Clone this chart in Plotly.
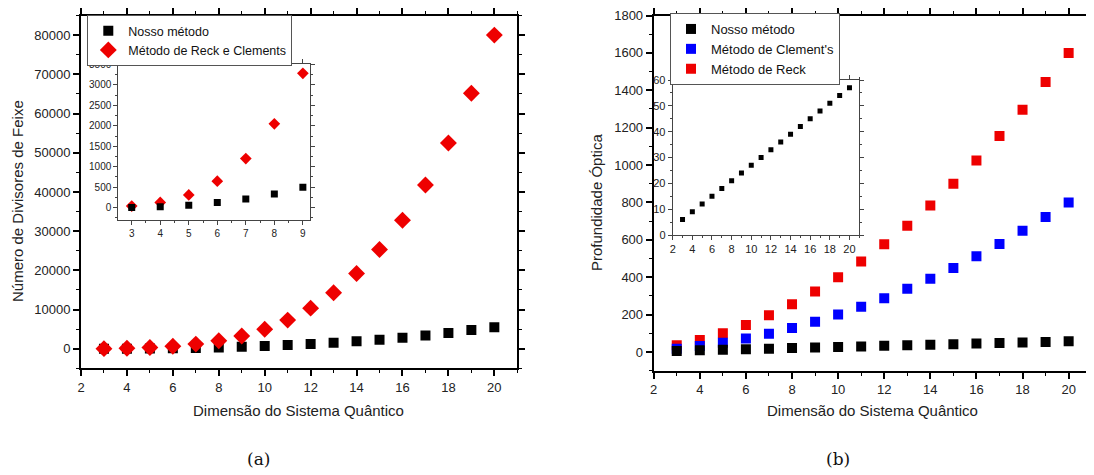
import plotly.graph_objects as go

# ---- data ----
dims_a = list(range(3, 21))
nosso_a = [6, 24, 60, 125, 215, 335, 500, 740, 950, 1200, 1540, 1900, 2330, 2820, 3420, 4040, 4800, 5500]
reck_clements_a = [40, 128, 312, 648, 1200, 2048, 3280, 5000, 7320, 10370, 14280, 19210, 25310, 32770, 41760, 52490, 65160, 80000]

dims_inset_a = list(range(3, 10))
nosso_inset_a = nosso_a[:7]
reck_inset_a = reck_clements_a[:7]

dims_b = list(range(3, 21))
nosso_b = [6, 9, 12, 15, 18, 21, 24, 27, 30, 33, 36, 39, 42, 45, 48, 51, 54, 57]
clements_b = [18, 32, 50, 72, 98, 128, 162, 200, 242, 288, 338, 392, 450, 512, 578, 648, 722, 800]
reck_b = [36, 64, 100, 144, 196, 256, 324, 400, 484, 576, 676, 784, 900, 1024, 1156, 1296, 1444, 1600]

W, H = 1094, 475
OFF = 8  # page body margin offset of the figure div

def fx(x):
    return (x - OFF) / W
def fy(y):
    return 1 - (y - OFF) / H
def px(x0, x1):
    return [fx(x0), fx(x1)]
def py(top, bottom):
    return [fy(bottom), fy(top)]

FONT = "Liberation Sans, Arial, sans-serif"
RED = "#ee0000"
BLUE = "#0000ff"

fig = go.Figure()

# left main
fig.add_trace(go.Scatter(x=dims_a, y=nosso_a, mode="markers", name="Nosso método",
                         marker=dict(symbol="square", size=10, color="black"),
                         xaxis="x", yaxis="y", legend="legend"))
fig.add_trace(go.Scatter(x=dims_a, y=reck_clements_a, mode="markers", name="Método de Reck e Clements",
                         marker=dict(symbol="diamond", size=13, color=RED),
                         xaxis="x", yaxis="y", legend="legend"))
# left inset
fig.add_trace(go.Scatter(x=dims_inset_a, y=reck_inset_a, mode="markers", showlegend=False,
                         marker=dict(symbol="diamond", size=9, color=RED),
                         xaxis="x2", yaxis="y2"))
fig.add_trace(go.Scatter(x=dims_inset_a, y=nosso_inset_a, mode="markers", showlegend=False,
                         marker=dict(symbol="square", size=7, color="black"),
                         xaxis="x2", yaxis="y2"))
# right main
fig.add_trace(go.Scatter(x=dims_b, y=reck_b, mode="markers", name="Método de Reck",
                         marker=dict(symbol="square", size=10, color=RED),
                         xaxis="x3", yaxis="y3", legend="legend2"))
fig.add_trace(go.Scatter(x=dims_b, y=clements_b, mode="markers", name="Método de Clement's",
                         marker=dict(symbol="square", size=10, color=BLUE),
                         xaxis="x3", yaxis="y3", legend="legend2"))
fig.add_trace(go.Scatter(x=dims_b, y=nosso_b, mode="markers", name="Nosso método",
                         marker=dict(symbol="square", size=10, color="black"),
                         xaxis="x3", yaxis="y3", legend="legend2"))
# right inset
fig.add_trace(go.Scatter(x=dims_b, y=nosso_b, mode="markers", showlegend=False,
                         marker=dict(symbol="square", size=5, color="black"),
                         xaxis="x4", yaxis="y4"))

def ax(domain, rng, dtick, minor_dtick, anchor, size=13, lw=2, tl=6, mtl=3, color="black"):
    return dict(domain=domain, range=rng, dtick=dtick, tick0=0, anchor=anchor,
                automargin=False, ticklabeloverflow="allow",
                showgrid=False, zeroline=False, showline=True, linecolor=color, linewidth=lw,
                mirror="ticks", ticks="outside", ticklen=tl, tickwidth=lw if lw < 2 else 1.5,
                tickcolor=color, tickformat="d",
                minor=dict(dtick=minor_dtick, ticks="outside", ticklen=mtl, tickcolor=color,
                           tickwidth=1, showgrid=False),
                tickfont=dict(family=FONT, size=size, color="#222"))

TOP = 15.5
layout = dict(
    width=W, height=H, margin=dict(l=0, r=0, t=0, b=0, pad=0, autoexpand=False),
    paper_bgcolor="white", plot_bgcolor="white",
    xaxis=ax(px(81, 517.3), [2, 21], 2, 1, "y"),
    yaxis=ax(py(TOP, 368.4), [-5000, 85000], 10000, 5000, "x"),
    xaxis2=ax(px(118.3, 310), [2.53, 9.25], 1, 0.5, "y2", size=10, lw=1, tl=4, mtl=2, color="#444"),
    yaxis2=ax(py(64.3, 220), [-300, 3500], 500, 250, "x2", size=10, lw=1, tl=4, mtl=2, color="#444"),
    xaxis3=ax(px(653.7, 1091.7), [2, 21], 2, 1, "y3"),
    yaxis3=ax(py(TOP, 370.7), [-100, 1800], 200, 100, "x3"),
    xaxis4=ax(px(672.7, 859.3), [2, 21], 2, 1, "y4", size=11, lw=1, tl=4, mtl=2, color="#444"),
    yaxis4=ax(py(80, 235), [0, 60], 10, 5, "x4", size=11, lw=1, tl=4, mtl=2, color="#444"),
    legend=dict(x=fx(87.3), y=fy(15), xanchor="left", yanchor="top",
                bgcolor="white", bordercolor="#555", borderwidth=1,
                font=dict(family=FONT, size=12.5, color="#111"),
                itemsizing="trace", tracegroupgap=0),
    legend2=dict(x=fx(670), y=fy(13), xanchor="left", yanchor="top",
                 bgcolor="white", bordercolor="#555", borderwidth=1,
                 font=dict(family=FONT, size=13, color="#111"),
                 traceorder="reversed", itemsizing="trace", tracegroupgap=0),
)
fig.update_layout(**layout)

title_font = dict(family=FONT, size=15, color="#222")
cap_font = dict(family="DejaVu Serif, Liberation Serif, serif", size=17, color="#111")
annotations = [
    dict(text="Dimensão do Sistema Quântico", x=fx(299), y=fy(410), font=title_font),
    dict(text="Dimensão do Sistema Quântico", x=fx(872), y=fy(410), font=title_font),
    dict(text="Número de Divisores de Feixe", x=fx(17), y=fy(201), font=title_font, textangle=-90),
    dict(text="Profundidade Óptica", x=fx(597), y=fy(203), font=title_font, textangle=-90),
    dict(text="(a)", x=fx(258), y=fy(459), font=cap_font),
    dict(text="(b)", x=fx(838), y=fy(459), font=cap_font),
]
for a in annotations:
    a.update(xref="paper", yref="paper", showarrow=False, xanchor="center", yanchor="middle")
fig.update_layout(annotations=annotations)

fig.write_html("out.html")
